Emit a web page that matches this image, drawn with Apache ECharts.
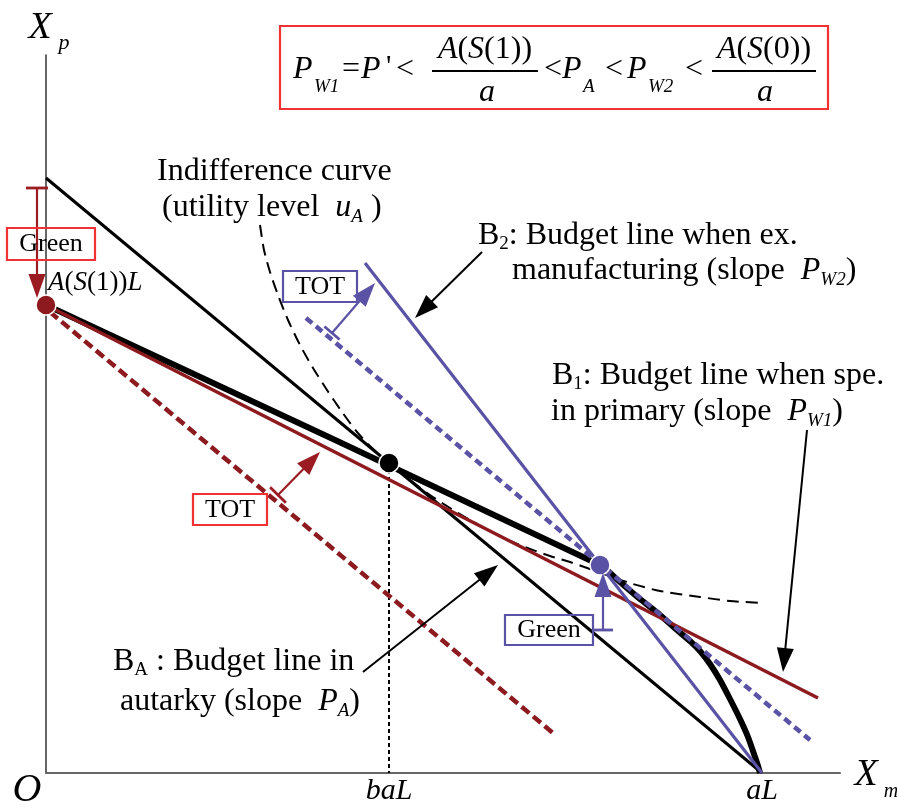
<!DOCTYPE html>
<html><head><meta charset="utf-8">
<script src="https://cdn.jsdelivr.net/npm/echarts@6/dist/echarts.min.js"></script>
<style>html,body{margin:0;padding:0;background:#fff}#c{width:897px;height:807px}</style>
</head><body><div id="c"></div>
<script>
// ---- data (chart units: x = X_m, y = X_p, aL at x = 716) ----
const ppfX = [0, 554, 574, 594, 614, 631, 644, 654, 664, 674, 684, 694, 702, 708, 712, 714];
const ppfY = [468, 208, 191, 174, 158, 143, 132, 122, 109, 93, 74, 54, 36, 19, 7, 0];
const autarkyX = [0, 716];
const autarkyY = [595, 0];
const b1X = [0, 772];
const b1Y = [468, 75];
const b1ShiftX = [4, 507];
const b1ShiftY = [461, 40];
const b2X = [319, 716];
const b2Y = [510, 0];
const b2ShiftX = [260, 764];
const b2ShiftY = [455, 33];
const icX = [214, 218, 224, 232, 242, 254, 267, 281, 296, 311, 326, 343, 364, 384, 404, 424, 444, 464, 484, 504, 524, 544, 566, 587, 614, 654, 684, 717];
const icY = [548, 523, 501, 478, 453, 428, 405, 383, 361, 341, 325, 310, 293, 278, 265, 253, 242, 232, 224, 217, 211, 204, 196, 189, 182, 176, 172, 170];
const dropX = [343, 343];
const dropY = [310, 0];
const pointX = [0, 343, 554];
const pointY = [468, 310, 208];
const tickX = [343, 716];
const tickLabels = ['baL', 'aL'];
// arrows: [x1, y1, x2, y2]
const pointerArrows = [[436, 521, 369, 455], [761, 343, 737, 101], [317, 101, 452, 208]];
const redArrows = [[-9, 585, -9, 475], [232, 278, 274, 321]];
const blueArrows = [[286, 440, 329, 490], [557, 143, 557, 200]];

const F = '"Liberation Serif","Times New Roman",serif';
const RED = '#8c1a1e', BLUE = '#5a52a5', BOXRED = '#f03232';

function pairs(xs, ys) { return xs.map((x, i) => [x, ys[i]]); }
function lineSeries(xs, ys, color, width, type, z, smooth) {
  return { type: 'line', data: pairs(xs, ys), symbol: 'none', silent: true, z: z,
    smooth: smooth || false,
    lineStyle: { color: color, width: width, type: type, cap: 'butt', join: 'round' }, animation: false };
}
function arrowSeries(rows, color, lw, headL, headW, tickLen) {
  return { type: 'custom', data: rows, clip: false, silent: true, z: 20, animation: false,
    renderItem: function (params, api) {
      const p1 = api.coord([api.value(0), api.value(1)]);
      const p2 = api.coord([api.value(2), api.value(3)]);
      const dx = p2[0] - p1[0], dy = p2[1] - p1[1];
      const L = Math.hypot(dx, dy), ux = dx / L, uy = dy / L, nx = -uy, ny = ux;
      const bx = p2[0] - ux * headL, by = p2[1] - uy * headL;
      const ch = [
        { type: 'line', shape: { x1: p1[0], y1: p1[1], x2: bx + ux * 2, y2: by + uy * 2 }, style: { stroke: color, lineWidth: lw } },
        { type: 'polygon', shape: { points: [[p2[0], p2[1]], [bx + nx * headW / 2, by + ny * headW / 2], [bx - nx * headW / 2, by - ny * headW / 2]] }, style: { fill: color } }
      ];
      if (tickLen) ch.push({ type: 'line', shape: { x1: p1[0] + nx * tickLen / 2, y1: p1[1] + ny * tickLen / 2, x2: p1[0] - nx * tickLen / 2, y2: p1[1] - ny * tickLen / 2 }, style: { stroke: color, lineWidth: lw + 0.6 } });
      return { type: 'group', children: ch };
    } };
}
function richStyles(size) {
  const sub = Math.round(size * 0.6);
  return {
    r: { fontSize: size, fontFamily: F, lineHeight: size + 4 },
    i: { fontSize: size, fontFamily: F, fontStyle: 'italic', lineHeight: size + 4 },
    s: { fontSize: sub, fontFamily: F, lineHeight: 16, verticalAlign: 'bottom' },
    si: { fontSize: sub, fontFamily: F, fontStyle: 'italic', lineHeight: 16, verticalAlign: 'bottom' }
  };
}
function txt(x, y, text, size, extra) {
  return { type: 'text', x: x, y: y, z: 100, silent: true,
    style: Object.assign({ text: text, fontFamily: F, fontSize: size, fill: '#000', align: 'left', verticalAlign: 'middle' }, extra || {}) };
}
function rich(x, y, text, size, extra) {
  return txt(x, y, text, size, Object.assign({ rich: richStyles(size) }, extra || {}));
}
function box(x, y, w, h, color) {
  return { type: 'rect', z: 100, silent: true, shape: { x: x, y: y, width: w, height: h }, style: { fill: 'none', stroke: color, lineWidth: 2.2 } };
}
function hline(x1, x2, y) {
  return { type: 'line', z: 100, silent: true, shape: { x1: x1, y1: y, x2: x2, y2: y }, style: { stroke: '#000', lineWidth: 1.8 } };
}

const graphics = [
  txt(40, 28, 'X', 38, { fontStyle: 'italic', align: 'center' }),
  txt(64, 43, 'p', 22, { fontStyle: 'italic', align: 'center' }),
  txt(866, 775, 'X', 38, { fontStyle: 'italic', align: 'center' }),
  txt(891, 792, 'm', 20, { fontStyle: 'italic', align: 'center' }),
  txt(27, 790, 'O', 40, { fontStyle: 'italic', align: 'center' }),
  box(280, 26, 548, 83, BOXRED),
  txt(293, 70, 'P', 32, { fontStyle: 'italic' }),
  txt(314, 87, 'W1', 19, { fontStyle: 'italic' }),
  txt(342, 70, '=', 32),
  txt(361, 70, 'P', 32, { fontStyle: 'italic' }),
  txt(386, 67, "'", 30),
  txt(396, 70, '<', 32),
  rich(485, 50, '{i|A}{r|(}{i|S}{r|(1))}', 32, { align: 'center' }),
  hline(432, 538, 71),
  txt(487, 93, 'a', 32, { fontStyle: 'italic', align: 'center' }),
  txt(544, 70, '<', 32),
  txt(562, 70, 'P', 32, { fontStyle: 'italic' }),
  txt(583, 87, 'A', 19, { fontStyle: 'italic' }),
  txt(605, 70, '<', 32),
  txt(627, 70, 'P', 32, { fontStyle: 'italic' }),
  txt(648, 87, 'W2', 19, { fontStyle: 'italic' }),
  txt(685, 70, '<', 32),
  rich(764, 50, '{i|A}{r|(}{i|S}{r|(0))}', 32, { align: 'center' }),
  hline(712, 816, 71),
  txt(765, 93, 'a', 32, { fontStyle: 'italic', align: 'center' }),
  txt(157, 172, 'Indifference curve', 32),
  rich(162, 208, '{r|(utility level  }{i|u}{si|A}{r| )}', 32),
  rich(478, 236, '{r|B}{s|2}{r|: Budget line when ex.}', 32),
  rich(512, 271, '{r|manufacturing (slope  }{i|P}{si|W2}{r|)}', 32),
  rich(552, 376, '{r|B}{s|1}{r|: Budget line when spe.}', 32),
  rich(551, 412, '{r|in primary (slope  }{i|P}{si|W1}{r|)}', 32),
  rich(113, 662, '{r|B}{s|A}{r| : Budget line in}', 32),
  rich(120, 702, '{r|autarky (slope  }{i|P}{si|A}{r|)}', 32),
  rich(48, 283, '{i|A}{r|(}{i|S}{r|(1))}{i|L}', 27),
  box(7, 228, 88, 32, BOXRED), txt(51, 244, 'Green', 26, { align: 'center' }),
  box(193, 494, 74, 31, BOXRED), txt(230, 510, 'TOT', 26, { align: 'center' }),
  box(283, 271, 74, 31, BLUE), txt(320, 287, 'TOT', 26, { align: 'center' }),
  box(505, 615, 88, 30, BLUE), txt(549, 630, 'Green', 26, { align: 'center' })
];

const chart = echarts.init(document.getElementById('c'), null, { renderer: 'canvas' });
chart.setOption({
  animation: false,
  backgroundColor: '#fff',
  grid: { left: 46, right: 57, top: 55, bottom: 34 },
  xAxis: { type: 'value', min: 0, max: 794, axisLine: { show: true, onZero: false, lineStyle: { color: '#666', width: 2 } },
    axisTick: { show: false }, axisLabel: { show: false }, splitLine: { show: false } },
  yAxis: { type: 'value', min: 0, max: 718, axisLine: { show: true, onZero: false, lineStyle: { color: '#333', width: 1.5 } },
    axisTick: { show: false }, axisLabel: { show: false }, splitLine: { show: false } },
  series: [
    lineSeries(dropX, dropY, '#000', 2, [4, 3], 2),
    lineSeries(autarkyX, autarkyY, '#000', 3, 'solid', 3),
    lineSeries(b1ShiftX, b1ShiftY, RED, 4.5, [10, 5], 3),
    lineSeries(ppfX, ppfY, '#000', 6, 'solid', 4, 0.2),
    lineSeries(icX, icY, '#000', 2, [12, 7], 4, 0.25),
    lineSeries(b1X, b1Y, RED, 3.5, 'solid', 5),
    lineSeries(b2X, b2Y, BLUE, 3.2, 'solid', 5),
    lineSeries(b2ShiftX, b2ShiftY, BLUE, 4.5, [8, 5], 6),
    { type: 'scatter', data: pairs(pointX, pointY), symbolSize: 20, silent: true, z: 15, animation: false,
      itemStyle: { borderColor: '#fff', borderWidth: 1.5, opacity: 1,
        color: function (p) { return [RED, '#000', BLUE][p.dataIndex]; } } },
    { type: 'scatter', data: tickX.map(x => [x, 0]), symbolSize: 0.1, silent: true, z: 15, animation: false,
      itemStyle: { color: 'rgba(0,0,0,0)', opacity: 1 },
      label: { show: true, position: 'bottom', distance: 3, formatter: p => tickLabels[p.dataIndex], opacity: 1,
        fontFamily: F, fontStyle: 'italic', fontSize: 30, color: '#000' } },
    arrowSeries(pointerArrows, '#000', 2, 24, 17, 0),
    arrowSeries(redArrows, '#9a1c22', 2.2, 24, 17, 22),
    arrowSeries(blueArrows, BLUE, 2.2, 24, 17, 20)
  ],
  graphic: graphics
});
</script>
</body></html>
